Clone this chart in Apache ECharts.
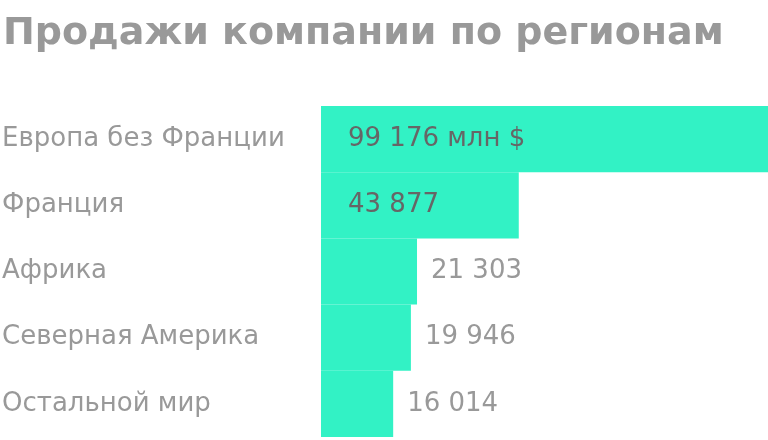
<!DOCTYPE html>
<html>
<head>
<meta charset="utf-8">
<script src="https://cdn.jsdelivr.net/npm/echarts@6/dist/echarts.min.js"></script>
<style>
  html, body { margin: 0; padding: 0; background: #fff; }
  #main { width: 768px; height: 440px; }
</style>
</head>
<body>
<div id="main"></div>
<script>
var categories = ['Европа без Франции', 'Франция', 'Африка', 'Северная Америка', 'Остальной мир'];
var values = [99176, 43877, 21303, 19946, 16014];
var valueLabels = ['99 176 млн $', '43 877', '21 303', '19 946', '16 014'];
var insideCount = 2; // first bars carry their label inside

var chartDom = document.getElementById('main');
var myChart = echarts.init(chartDom);
var option;
var font = 'DejaVu Sans';

var data = values.map(function (v, i) {
  var inside = i < insideCount;
  return {
    value: v,
    label: {
      position: inside ? 'insideLeft' : 'right',
      distance: inside ? 27 : 14,
      color: inside ? '#666' : '#999',
      formatter: valueLabels[i]
    }
  };
});

option = {
  animation: false,
  title: {
    text: 'Продажи компании по регионам',
    left: 3,
    top: 15,
    padding: 0,
    textStyle: {
      fontFamily: font,
      fontWeight: 'bold',
      fontSize: 38,
      color: '#999'
    }
  },
  grid: {
    left: 321,
    right: 0,
    top: 106,
    bottom: 3,
    containLabel: false,
    outerBoundsMode: 'none'
  },
  xAxis: {
    type: 'value',
    min: 0,
    max: 99176,
    show: false
  },
  yAxis: {
    type: 'category',
    data: categories,
    inverse: true,
    axisLine: { show: false },
    axisTick: { show: false },
    axisLabel: {
      align: 'left',
      margin: 319,
      color: '#999',
      fontFamily: font,
      fontSize: 26
    }
  },
  series: [
    {
      type: 'bar',
      data: data,
      barCategoryGap: 0,
      itemStyle: { color: '#32f2c5' },
      label: {
        show: true,
        fontFamily: font,
        fontSize: 26
      }
    }
  ]
};

option && myChart.setOption(option);
</script>
</body>
</html>
